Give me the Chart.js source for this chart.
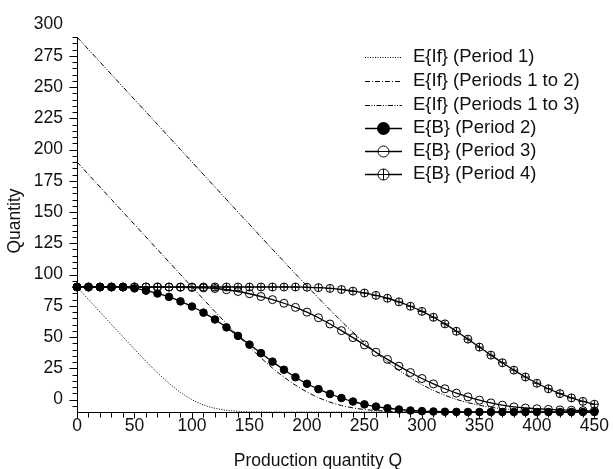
<!DOCTYPE html>
<html><head><meta charset="utf-8">
<script src="https://cdn.jsdelivr.net/npm/chart.js@4.4.1/dist/chart.umd.min.js"></script>
<style>html,body{margin:0;padding:0;background:#fff}#wrap{width:613px;height:469px;position:relative}</style>
</head><body><div id="wrap"><canvas id="c" width="613" height="469"></canvas></div>
<script>
// ---- data ----
const qValues = [0,10,20,30,40,50,60,70,80,90,100,110,120,130,140,150,160,170,180,190,200,210,220,230,240,250,260,270,280,290,300,310,320,330,340,350,360,370,380,390,400,410,420,430,440,450];

const ifPeriod1 = [90,80,70,60,50.1,40.2,30.6,21.4,13,5.7,
  -0.1,-4.3,-7,-8.6,-9.4,-9.8,-9.9,-10,-10,-10,
  -10,-10,-10,-10,-10,-10,-10,-10,-10,-10,-10,-10,-10,-10,-10,-10,-10,-10,-10,-10,-10,-10,-10,-10,-10,-10];

const ifPeriods12 = [190,180,170,160,150,140,130,120,110,100,90.1,80.2,70.3,60.7,51.2,42,33.3,25.2,17.9,11.5,
  6,1.5,-2.1,-4.8,-6.7,-8,-8.8,-9.35,-9.7,-9.8,-9.9,-10,-10,-10,-10,-10,-10,-10,-10,-10,-10,-10,-10,-10,-10,-10];

const ifPeriods13 = [290,280,270,260,250,240,230,220,210,200,190,180,170,160,150,
  140.1,130.1,120.2,110.3,100.5,90.8,81.2,71.8,62.6,53.8,
  45.4,37.5,30.1,23.4,17.3,11.9,7.3,3.4,0.1,-2.5,
  -4.6,-6.2,-7.4,-8.2,-8.8,-9.2,-9.5,-9.7,-9.8,-9.9,-9.9];

const bPeriod2 = [90,90,90,90,89.8,88.9,87.1,84.8,82.1,78.5,
  74.4,69.5,64,57.7,50.9,43.9,37.1,30.3,23.8,17.8,
  12.6,8.3,4.4,1.2,-1.6,-3.9,-5.7,-7,-8,-8.8,
  -9.3,-9.6,-9.8,-9.9,-10,-10,-10,-10,-10,-10,
  -10,-10,-10,-10,-10,-10];

const bPeriod3 = [90,90,90,90,90,90,90,90,89.9,89.8,
  89.6,89.3,88.8,87.8,86.4,84.6,82.4,79.9,77,73.7,
  69.9,65.4,60.4,55.1,49.5,43.7,37.8,32.1,26.7,21.6,
  16.8,12.5,8.6,5.1,2.1,-0.5,-2.7,-4.5,-5.9,-6.8,
  -7.4,-7.9,-8.3,-8.6,-8.9,-9.1];

const bPeriod4 = [90,90,90,90,90,90,90,90,90,90,
  90,90,90,90,90,90,90,90,90,90,
  89.8,89.5,88.9,88,86.7,85.2,83.3,81,78.1,74.6,
  70.5,65.8,60.5,54.6,48.3,41.9,35.5,29.4,23.5,18,
  13,8.6,4.7,1.3,-1.5,-3.8];

const seriesLabels = ['E{If} (Period 1)','E{If} (Periods 1 to 2)','E{If} (Periods 1 to 3)','E{B} (Period 2)','E{B} (Period 3)','E{B} (Period 4)'];
const xTickLabels = [0,50,100,150,200,250,300,350,400,450];
const yTickLabels = [0,25,50,75,100,125,150,175,200,225,250,275,300];
const xTitle = 'Production quantity Q';
const yTitle = 'Quantity';

// ---- styling ----
const FONT = '"Liberation Sans", Arial, Helvetica, sans-serif';
const X_MIN = 0, X_MAX = 450, Y_MIN = -10, Y_MAX = 300, Y_AXIS_TOP = 290;

const pts = arr => qValues.map((q, i) => ({x: q, y: arr[i]}));
const dashes = [[1, 1.5], [5, 2, 1, 2], [5, 1.5, 1, 1.5, 1, 1.5]];

const datasets = [
  {label: seriesLabels[0], data: pts(ifPeriod1), borderColor: '#000', borderWidth: 1, borderDash: dashes[0], pointRadius: 0},
  {label: seriesLabels[1], data: pts(ifPeriods12), borderColor: '#000', borderWidth: 1, borderDash: dashes[1], pointRadius: 0},
  {label: seriesLabels[2], data: pts(ifPeriods13), borderColor: '#000', borderWidth: 1, borderDash: dashes[2], pointRadius: 0},
  {label: seriesLabels[3], data: pts(bPeriod2), borderColor: '#000', borderWidth: 1.3, pointStyle: 'circle', pointRadius: 3.8, pointBackgroundColor: '#000', pointBorderColor: '#000', pointBorderWidth: 1},
  {label: seriesLabels[4], data: pts(bPeriod3), borderColor: '#000', borderWidth: 1.3, pointStyle: 'circle', pointRadius: 4, pointBackgroundColor: 'rgba(255,255,255,0)', pointBorderColor: '#000', pointBorderWidth: 1},
  {label: seriesLabels[5], data: pts(bPeriod4), borderColor: '#000', borderWidth: 1.3, pointStyle: 'circle', pointRadius: 4, pointBackgroundColor: 'rgba(255,255,255,0)', pointBorderColor: '#000', pointBorderWidth: 1},
  // the "+" inside the Period 4 markers
  {label: '', legendSkip: true, data: pts(bPeriod4), showLine: false, pointStyle: 'cross', pointRadius: 4, pointBorderColor: '#000', pointBorderWidth: 1}
];
datasets.forEach(d => { d.fill = false; d.cubicInterpolationMode = 'monotone'; d.clip = false; });

const decoPlugin = {
  id: 'deco',
  beforeDatasetsDraw(chart) {
    const {ctx, scales: {x, y}} = chart;
    ctx.save();
    ctx.strokeStyle = '#000'; ctx.lineWidth = 1;
    const ax = Math.round(x.getPixelForValue(X_MIN)) + 0.5;
    const ay = Math.round(y.getPixelForValue(Y_MIN)) + 0.5;
    ctx.beginPath();
    ctx.moveTo(ax, ay); ctx.lineTo(ax, Math.round(y.getPixelForValue(Y_AXIS_TOP)) + 0.5);
    ctx.moveTo(ax, ay); ctx.lineTo(Math.round(x.getPixelForValue(X_MAX)) + 0.5, ay);
    for (let v = -5; v <= Y_AXIS_TOP; v += 5) {
      const py = Math.round(y.getPixelForValue(v)) + 0.5;
      const len = (v % 25 === 0) ? 8 : 5;
      ctx.moveTo(ax - len, py); ctx.lineTo(ax, py);
    }
    for (let v = X_MIN; v <= X_MAX; v += 10) {
      const px = Math.round(x.getPixelForValue(v)) + 0.5;
      const len = (v % 50 === 0) ? 6 : 5;
      ctx.moveTo(px, ay); ctx.lineTo(px, ay + len);
    }
    ctx.stroke();
    ctx.restore();
  },
  afterDraw(chart) {
    const {ctx} = chart;
    ctx.save();
    ctx.fillStyle = '#111';
    ctx.font = '17.5px ' + FONT;
    ctx.textAlign = 'center'; ctx.textBaseline = 'alphabetic';
    ctx.fillText(xTitle, 318, 466);
    ctx.save();
    ctx.translate(15, 221); ctx.rotate(-Math.PI / 2);
    ctx.textBaseline = 'middle';
    ctx.fillText(yTitle, 0, 0);
    ctx.restore();
    // legend
    const rows = [57, 81, 104.5, 128, 150.5, 173.5];
    const x0 = 365, x1 = 402, xm = 383.5, tx = 413;
    ctx.font = '18.5px ' + FONT;
    ctx.textAlign = 'left'; ctx.textBaseline = 'middle';
    chart.data.datasets.filter(d => !d.legendSkip).forEach((d, i) => {
      const ry = rows[i];
      const ly = Math.round(ry) + 0.5;
      ctx.save();
      ctx.strokeStyle = d.borderColor; ctx.lineWidth = d.borderWidth;
      ctx.setLineDash(d.borderDash || []);
      ctx.beginPath(); ctx.moveTo(x0, ly); ctx.lineTo(x1, ly); ctx.stroke();
      ctx.setLineDash([]);
      ctx.lineWidth = 1;
      if (i === 3) {
        ctx.fillStyle = '#000'; ctx.beginPath(); ctx.arc(xm, ly, 6.5, 0, Math.PI * 2); ctx.fill();
      } else if (i === 4 || i === 5) {
        ctx.fillStyle = '#fff'; ctx.strokeStyle = '#000';
        ctx.beginPath(); ctx.arc(xm, ly, 5.5, 0, Math.PI * 2); ctx.fill(); ctx.stroke();
        ctx.beginPath(); ctx.moveTo(xm - 5.5, ly); ctx.lineTo(xm + 5.5, ly);
        if (i === 5) { ctx.moveTo(xm, ly - 5.5); ctx.lineTo(xm, ly + 5.5); }
        ctx.stroke();
      }
      ctx.restore();
      ctx.fillStyle = '#111';
      ctx.fillText(d.label, tx, ry);
    });
    ctx.restore();
  }
};

new Chart(document.getElementById('c'), {
  type: 'line',
  data: {datasets},
  options: {
    responsive: false,
    animation: false,
    events: [],
    layout: {padding: {left: 0, top: 16, right: 17, bottom: 0}},
    plugins: {legend: {display: false}, tooltip: {enabled: false}},
    scales: {
      x: {
        type: 'linear', min: X_MIN, max: X_MAX,
        grid: {display: false, drawTicks: false}, border: {display: false},
        afterBuildTicks: s => { s.ticks = xTickLabels.map(v => ({value: v})); },
        afterFit: s => { s.height = 57; },
        ticks: {color: '#111', padding: 4, maxRotation: 0, autoSkip: false, font: {family: FONT, size: 17.5}}
      },
      y: {
        type: 'linear', min: Y_MIN, max: Y_MAX,
        grid: {display: false, drawTicks: false}, border: {display: false},
        afterBuildTicks: s => { s.ticks = yTickLabels.map(v => ({value: v})); },
        afterFit: s => { s.width = 77; },
        ticks: {color: '#111', padding: 14, autoSkip: false, font: {family: FONT, size: 17.5}}
      }
    }
  },
  plugins: [decoPlugin]
});
</script>
</body></html>
